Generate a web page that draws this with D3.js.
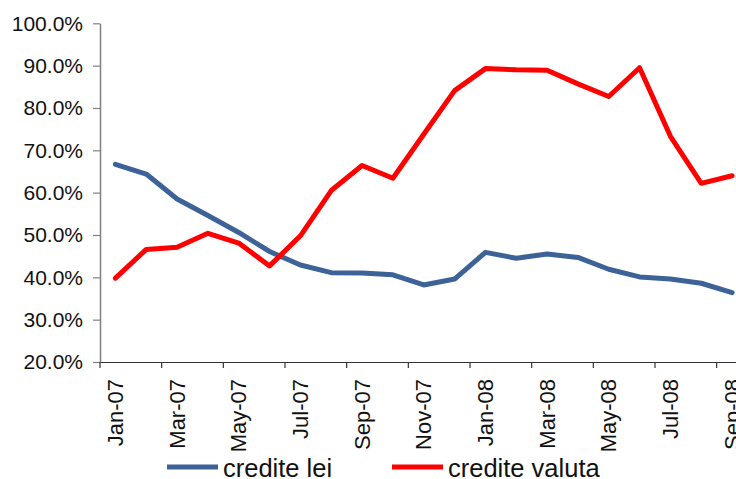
<!DOCTYPE html>
<html>
<head>
<meta charset="utf-8">
<script src="https://cdn.jsdelivr.net/npm/d3@7"></script>
<style>
  body { margin: 0; background: #fff; }
  svg { font-family: "Liberation Sans", Arial, sans-serif; }
</style>
</head>
<body>
<div class="canvas"></div>
<script>
/* ----------- DATA ----------- */
const months = ['Jan-07','Feb-07','Mar-07','Apr-07','May-07','Jun-07','Jul-07','Aug-07','Sep-07','Oct-07','Nov-07','Dec-07',
                'Jan-08','Feb-08','Mar-08','Apr-08','May-08','Jun-08','Jul-08','Aug-08','Sep-08'];
const crediteLei = [66.7,64.4,58.5,54.6,50.6,46.1,42.9,41.1,41.0,40.6,38.2,39.6,
                    45.9,44.5,45.5,44.7,41.9,40.1,39.6,38.6,36.4];
const crediteValuta = [39.8,46.6,47.1,50.4,48.1,42.7,49.8,60.5,66.4,63.4,73.8,84.1,
                       89.3,89.0,88.9,85.7,82.7,89.5,73.3,62.2,64.0];
const yTicks = [20,30,40,50,60,70,80,90,100];
const series = [
  { name: 'credite lei', values: crediteLei, color: '#3C6298' },
  { name: 'credite valuta', values: crediteValuta, color: '#FF0000' }
];

/* ----------- CONTAINER ----------- */
const width = 736, height = 479;
const svg = d3.select('.canvas')
    .append('svg')
    .attr('width', width)
    .attr('height', height);

// plot area runs a bit past the right edge, like the source picture
const plotLeft = 100, plotRight = 747.5, plotTop = 23.3, plotBottom = 362;

/* ----------- SCALES & AXES ----------- */
const x = d3.scaleBand()
    .domain(months)
    .range([plotLeft, plotRight]);

const y = d3.scaleLinear()
    .domain([20, 100])
    .range([plotBottom, plotTop]);

// y axis
const yAxisGroup = svg.append('g')
    .attr('transform', `translate(${plotLeft},0)`)
    .call(d3.axisLeft(y)
        .tickValues(yTicks)
        .tickSize(7)
        .tickSizeOuter(0)
        .tickPadding(10)
        .tickFormat(d => d.toFixed(1) + '%'));
yAxisGroup.select('.domain').attr('stroke', '#808080').attr('stroke-width', 1.5);
yAxisGroup.selectAll('line').attr('stroke', '#808080').attr('stroke-width', 1.2);
yAxisGroup.selectAll('text')
    .attr('font-size', 21)
    .attr('fill', '#111');

// x axis: label every second month, tick at the left edge of its band
const xAxisGroup = svg.append('g')
    .attr('transform', `translate(0,${plotBottom})`)
    .call(d3.axisBottom(x)
        .tickValues(months.filter((d, i) => i % 2 === 0))
        .tickSize(6)
        .tickSizeOuter(0));
xAxisGroup.select('.domain').attr('stroke', '#333').attr('stroke-width', 1.2);
xAxisGroup.selectAll('.tick line')
    .attr('x1', -x.bandwidth() / 2)
    .attr('x2', -x.bandwidth() / 2)
    .attr('stroke', '#333')
    .attr('stroke-width', 1.2);
xAxisGroup.selectAll('.tick text')
    .attr('transform', 'rotate(-90)')
    .attr('text-anchor', 'end')
    .attr('x', -17)
    .attr('y', 0)
    .attr('dy', '0.35em')
    .attr('font-size', 22)
    .attr('fill', '#111');

/* ----------- LINES ----------- */
const line = d3.line()
    .x((d, i) => x(months[i]) + x.bandwidth() / 2)
    .y(d => y(d));

svg.selectAll('path.series')
    .data(series)
    .enter()
    .append('path')
    .attr('class', 'series')
    .attr('d', d => line(d.values))
    .attr('fill', 'none')
    .attr('stroke', d => d.color)
    .attr('stroke-width', 5)
    .attr('stroke-linejoin', 'round')
    .attr('stroke-linecap', 'round');

/* ----------- LEGEND ----------- */
const legendX = [167, 392];
const legend = svg.selectAll('g.legend')
    .data(series)
    .enter()
    .append('g')
    .attr('class', 'legend')
    .attr('transform', (d, i) => `translate(${legendX[i]},467)`);

legend.append('line')
    .attr('x1', 0).attr('x2', 51)
    .attr('stroke', d => d.color)
    .attr('stroke-width', 5);

legend.append('text')
    .attr('x', 56)
    .attr('y', 9.5)
    .attr('font-size', 25.5)
    .attr('fill', '#111')
    .text(d => d.name);
</script>
</body>
</html>
